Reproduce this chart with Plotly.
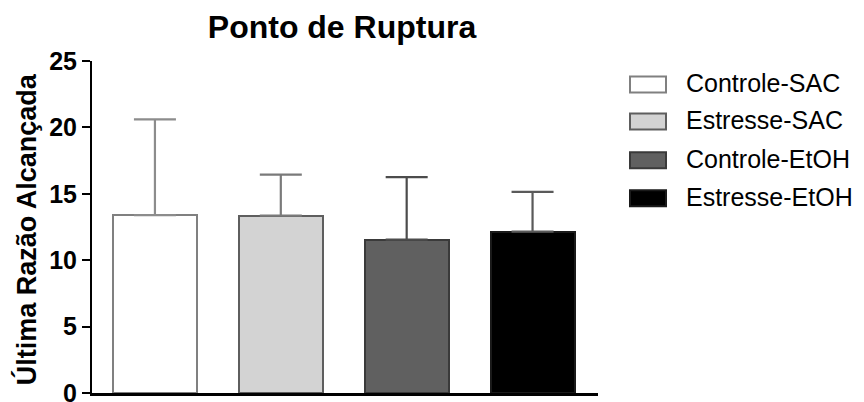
import plotly.graph_objects as go

# Groups, means and upper error (SEM) for the breaking-point test
groups = ["Controle-SAC", "Estresse-SAC", "Controle-EtOH", "Estresse-EtOH"]
means = [13.4, 13.35, 11.55, 12.15]
errors = [7.2, 3.1, 4.7, 3.0]

fill_colors = ["#ffffff", "#d3d3d3", "#606060", "#000000"]
line_colors = ["#808080", "#5e5e5e", "#3a3a3a", "#1a1a1a"]
err_colors = ["#8c8c8c", "#7a7a7a", "#4c4c4c", "#5a5a5a"]

y_ticks = [0, 5, 10, 15, 20, 25]

W, H = 864, 402
L, R, T, B = 92, 598, 60.5, 393  # plot area in pixels


def px_x(x):
    return (x - L) / (R - L)


def px_y(y):
    return (B - y) / (B - T)


fig = go.Figure()
for g, m, e, fc, lc, ec in zip(groups, means, errors, fill_colors, line_colors, err_colors):
    fig.add_trace(go.Bar(
        x=[g], y=[m], width=0.667,
        marker=dict(color=fc, line=dict(color=lc, width=2)),
        error_y=dict(type="data", symmetric=False, array=[e], arrayminus=[0],
                     color=ec, thickness=2.2, width=21),
        showlegend=False,
    ))

# Legend drawn as boxes with labels
leg_rows = [84, 121, 160, 198]
for g, fc, lc, yc in zip(groups, fill_colors, line_colors, leg_rows):
    fig.add_shape(type="rect", xref="paper", yref="paper",
                  x0=px_x(630), x1=px_x(666), y0=px_y(yc + 8), y1=px_y(yc - 8),
                  fillcolor=fc, line=dict(color=lc, width=2))
    fig.add_annotation(text=g, xref="paper", yref="paper", x=px_x(684), y=px_y(yc - 1),
                       xanchor="left", yanchor="middle", showarrow=False,
                       font=dict(family="Liberation Sans", size=25, color="#000"))

# Y-axis title
fig.add_annotation(text="Última Razão Alcançada", xref="paper", yref="paper",
                   x=px_x(26), y=px_y(229), textangle=-90, showarrow=False,
                   xanchor="center", yanchor="middle",
                   font=dict(family="Liberation Sans", size=27, color="#000", weight="bold"))

fig.update_layout(
    width=W, height=H,
    margin=dict(l=L, r=W - R, t=T, b=H - B, autoexpand=False),
    paper_bgcolor="white", plot_bgcolor="white",
    barmode="overlay", bargap=0,
    title=dict(text="<b>Ponto de Ruptura</b>", x=342 / W, xref="container", xanchor="center",
               y=1 - 27 / H, yref="container", yanchor="middle",
               font=dict(family="Liberation Sans", size=32, color="#000")),
    xaxis=dict(type="category", categoryorder="array", categoryarray=groups,
               range=[-0.5, 3.52], showline=True, linecolor="#000", linewidth=3,
               showticklabels=False, ticks="", showgrid=False, zeroline=False,
               automargin=False),
    yaxis=dict(range=[0, 25], tickvals=y_ticks, showline=True, linecolor="#000", linewidth=2,
               ticks="outside", ticklen=8, tickwidth=2, tickcolor="#000",
               ticklabeloverflow="allow", automargin=False,
               showgrid=False, zeroline=False,
               tickfont=dict(family="Liberation Sans", size=25, color="#000", weight="bold")),
)

fig.write_html("out.html")
